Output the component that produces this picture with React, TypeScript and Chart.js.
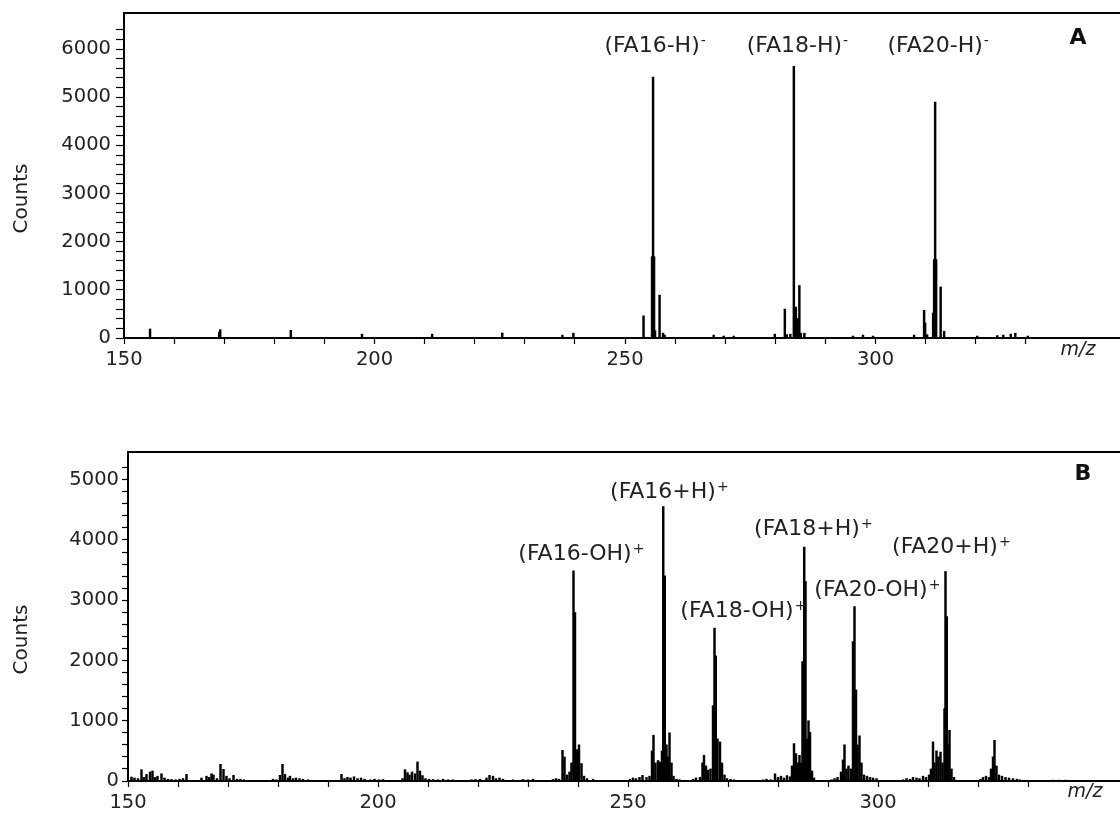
import React, { useEffect, useRef } from "react";
import { Chart, registerables } from "chart.js";

Chart.register(...registerables);

// ---------- Panel A (negative ions) ----------
const aMz = [155.2, 169.0, 169.2, 183.3, 197.5, 211.5, 225.5, 237.5, 239.7, 253.7, 255.4, 255.6, 255.8, 256.0, 256.9, 257.6, 257.9, 267.7, 269.7, 271.7, 279.9, 281.9, 282.3, 283.0, 283.7, 283.9, 284.1, 284.3, 284.5, 284.8, 285.1, 285.8, 295.5, 297.5, 299.5, 307.7, 309.7, 309.9, 310.3, 311.5, 311.7, 311.9, 312.1, 313.0, 313.7, 320.3, 324.3, 325.5, 327.0, 327.9, 330.4];
const aCounts = [187, 120, 173, 160, 80, 80, 104, 60, 100, 460, 1690, 5420, 1690, 150, 890, 100, 60, 60, 40, 40, 80, 600, 70, 80, 5640, 640, 640, 400, 400, 1090, 100, 100, 40, 60, 40, 60, 576, 312, 70, 520, 1630, 4900, 1630, 1060, 140, 40, 50, 60, 80, 100, 40];
const aLabelText = ["(FA16-H)", "(FA18-H)", "(FA20-H)"];
const aLabelSup = ["-", "-", "-"];
const aLabelMz = [255.4, 283.8, 311.9];
const aLabelY = [6060, 6060, 6060];

// ---------- Panel B (positive ions) ----------
const bMz = [
  150.7, 151.3, 152.0, 152.7, 153.2, 153.7, 154.4, 154.9, 155.4, 155.9, 156.7, 157.3, 158.0, 158.7, 159.5, 160.3, 161.0, 161.7,
  164.7, 165.7, 166.2, 166.7, 167.1, 167.8, 168.5, 169.1, 169.7, 170.3, 171.1, 171.8, 172.5, 173.2,
  179.0, 179.7, 180.4, 180.9, 181.4, 182.0, 182.4, 183.0, 183.6, 184.3, 185.0, 186.0,
  192.7, 193.3, 193.9, 194.5, 195.2, 195.9, 196.6, 197.3, 198.5, 199.3, 200.2, 201.0,
  204.9, 205.4, 205.9, 206.3, 206.8, 207.4, 207.9, 208.4, 208.9, 209.5, 210.2, 211.0, 212.0, 213.0, 214.0, 215.0,
  218.7, 219.5, 220.4, 221.7, 222.3, 223.0, 223.6, 224.3, 225.0, 227.0, 229.0, 230.0, 231.0,
  235.0, 235.6, 236.2, 236.9, 237.3, 237.8, 238.3, 238.7, 239.1, 239.4, 239.8, 240.2, 240.7, 241.2, 241.8, 243.0,
  250.4, 251.0, 251.6, 252.3, 252.9, 253.7, 254.3, 254.8, 255.1, 255.5, 256.0, 256.4, 256.8, 257.05, 257.35, 257.7, 258.0, 258.3, 258.7, 259.1, 259.7, 260.3,
  263.0, 263.6, 264.4, 264.9, 265.2, 265.6, 266.0, 266.5, 267.0, 267.3, 267.55, 267.9, 268.4, 268.8, 269.3, 269.8, 270.5, 271.2,
  277.0, 277.7, 278.5, 279.4, 280.0, 280.6, 281.2, 281.8, 282.4, 282.8, 283.2, 283.6, 284.0, 284.3, 284.6, 284.9, 285.25, 285.5, 285.8, 286.1, 286.4, 286.8, 287.2,
  290.7, 291.3, 291.9, 292.6, 293.0, 293.3, 293.7, 294.1, 294.6, 295.0, 295.3, 295.6, 295.9, 296.3, 296.7, 297.2, 297.8, 298.4, 299.0, 299.7,
  305.0, 305.7, 306.4, 307.0, 307.7, 308.3, 309.0, 309.6, 310.2, 310.6, 311.0, 311.3, 311.7, 312.1, 312.5, 312.9, 313.3, 313.5, 313.75, 314.0, 314.3, 314.7, 315.2,
  320.5, 321.0, 321.6, 322.2, 322.6, 323.0, 323.3, 323.7, 324.2, 324.8, 325.5, 326.2, 327.0, 327.8, 328.4,
  335.0, 336.2, 337.5, 339.0,
];
const bCounts = [
  66, 50, 40, 188, 60, 110, 150, 166, 60, 80, 120, 50, 30, 25, 20, 30, 40, 110,
  50, 80, 60, 120, 100, 40, 277, 194, 80, 40, 94, 30, 30, 20,
  30, 20, 94, 277, 110, 50, 80, 40, 50, 40, 30, 20,
  110, 40, 60, 50, 70, 40, 50, 30, 20, 30, 20, 25,
  40, 188, 140, 100, 150, 120, 316, 166, 90, 40, 30, 25, 20, 30, 20, 20,
  20, 25, 30, 50, 94, 80, 40, 50, 30, 20, 25, 20, 30,
  25, 40, 30, 510, 400, 100, 150, 300, 3488, 2796, 520, 600, 290, 80, 40, 30,
  30, 50, 40, 60, 94, 60, 80, 500, 760, 300, 340, 316, 500, 4556, 3405, 600, 400, 800, 300, 80, 30, 20,
  30, 50, 60, 300, 427, 250, 180, 200, 1250, 2537, 2076, 700, 648, 300, 100, 40, 30, 20,
  20, 30, 20, 120, 60, 80, 50, 90, 70, 250, 620, 454, 300, 427, 300, 1982, 3882, 3311, 700, 1000, 810, 166, 50,
  20, 40, 60, 150, 350, 600, 200, 250, 200, 2314, 2895, 1512, 600, 750, 300, 100, 80, 60, 50, 40,
  20, 40, 30, 60, 50, 40, 80, 60, 100, 200, 650, 300, 500, 400, 480, 300, 1200, 3477, 2729, 600, 842, 200, 60,
  30, 60, 80, 60, 200, 400, 676, 250, 100, 80, 60, 50, 40, 30, 20,
  15, 15, 15, 10,
];
const bLabelText = ["(FA16-OH)", "(FA16+H)", "(FA18-OH)", "(FA18+H)", "(FA20-OH)", "(FA20+H)"];
const bLabelSup = ["+", "+", "+", "+", "+", "+"];
const bLabelMz = [239.4, 257.0, 271.8, 285.8, 298.6, 313.4];
const bLabelY = [3767, 4796, 2821, 4182, 3170, 3883];

// ---------- Axes ----------
const xMin = 150;
const xMajorStep = 50;
const xMinorStep = 10;
const yMajorStep = 1000;
const yMinorStep = 200;
const yTitle = "Counts";
const xTitle = "m/z";

const FONT = '"DejaVu Sans", "Liberation Sans", sans-serif';

type PanelProps = {
  mz: number[];
  counts: number[];
  labelText: string[];
  labelSup: string[];
  labelMz: number[];
  labelY: number[];
  letter: string;
  xMax: number;
  yMax: number;
  top: number;
  height: number;
  padTop: number;
  xAxisHeight: number;
  yAxisWidth: number;
  yTickLen: number;
  yTickPad: number;
  letterDx: number;
  letterDy: number;
  mzDx: number;
  mzDy: number;
};

function onStep(v: number, step: number) {
  const r = v / step;
  return Math.abs(r - Math.round(r)) < 1e-6;
}

function Panel(p: PanelProps) {
  const ref = useRef<HTMLCanvasElement | null>(null);
  useEffect(() => {
    if (!ref.current) return;
    const overlay = {
      id: "overlay",
      afterDraw(chart: any) {
        const { ctx, chartArea: ca } = chart;
        const x = chart.scales.x;
        const y = chart.scales.y;
        ctx.save();
        // top frame line
        ctx.strokeStyle = "#000";
        ctx.lineWidth = 2;
        ctx.beginPath();
        ctx.moveTo(ca.left, ca.top);
        ctx.lineTo(ca.right, ca.top);
        ctx.stroke();
        // peak labels
        ctx.fillStyle = "#222";
        ctx.textBaseline = "middle";
        p.labelText.forEach((t, i) => {
          const px = x.getPixelForValue(p.labelMz[i]);
          const py = y.getPixelForValue(p.labelY[i]);
          ctx.font = `22px ${FONT}`;
          ctx.textAlign = "center";
          ctx.fillText(t, px, py);
          const w = ctx.measureText(t).width;
          ctx.font = `14px ${FONT}`;
          ctx.textAlign = "left";
          ctx.fillText(p.labelSup[i], px + w / 2 + 1, py - 5);
        });
        // panel letter
        ctx.fillStyle = "#111";
        ctx.font = `bold 22px ${FONT}`;
        ctx.textAlign = "center";
        ctx.fillText(p.letter, ca.right + p.letterDx, ca.top + p.letterDy);
        // m/z
        ctx.fillStyle = "#222";
        ctx.font = `italic 19px ${FONT}`;
        ctx.fillText(xTitle, ca.right + p.mzDx, ca.bottom + p.mzDy);
        // y title
        ctx.font = `20px ${FONT}`;
        ctx.translate(22, (ca.top + ca.bottom) / 2 + 23);
        ctx.rotate(-Math.PI / 2);
        ctx.fillText(yTitle, 0, 0);
        ctx.restore();
      },
    };
    const chart = new Chart(ref.current, {
      type: "bar",
      data: {
        datasets: [
          {
            data: p.mz.map((m, i) => ({ x: m, y: p.counts[i] })),
            backgroundColor: "#000",
            borderWidth: 0,
            barThickness: 1.8,
            grouped: false,
          } as any,
        ],
      },
      options: {
        animation: false,
        responsive: false,
        maintainAspectRatio: false,
        layout: { padding: { top: p.padTop, right: 0, bottom: 0, left: 0 } },
        plugins: { legend: { display: false }, tooltip: { enabled: false } },
        scales: {
          x: {
            type: "linear",
            min: xMin,
            max: p.xMax,
            offset: false,
            afterBuildTicks: (s: any) => {
              s.ticks = s.ticks.filter((t: any) => onStep(t.value, xMinorStep));
            },
            afterFit: (s: any) => {
              s.height = p.xAxisHeight;
              s.paddingLeft = 0;
              s.paddingRight = 0;
            },
            ticks: {
              stepSize: xMinorStep,
              autoSkip: false,
              maxRotation: 0,
              padding: 4,
              color: "#222",
              font: { family: FONT, size: 19.5 },
              callback: (v: any) => (onStep(Number(v), xMajorStep) ? String(v) : ""),
            },
            grid: {
              display: true,
              offset: false,
              drawOnChartArea: false,
              drawTicks: true,
              tickLength: 6,
              tickColor: "#000",
              tickWidth: 1.2,
            },
            border: { display: true, color: "#000", width: 2 },
          } as any,
          y: {
            type: "linear",
            min: 0,
            max: p.yMax,
            afterBuildTicks: (s: any) => {
              s.ticks = s.ticks.filter((t: any) => onStep(t.value, yMinorStep));
            },
            afterFit: (s: any) => {
              s.width = p.yAxisWidth;
              s.paddingTop = 0;
              s.paddingBottom = 0;
            },
            ticks: {
              stepSize: yMinorStep,
              autoSkip: false,
              padding: p.yTickPad,
              color: "#222",
              font: { family: FONT, size: 19.5 },
              callback: (v: any) => (onStep(Number(v), yMajorStep) ? String(v) : ""),
            },
            grid: {
              display: true,
              drawOnChartArea: false,
              drawTicks: true,
              tickLength: p.yTickLen,
              tickColor: "#000",
              tickWidth: 1.2,
            },
            border: { display: true, color: "#000", width: 2 },
          } as any,
        },
      },
      plugins: [overlay],
    });
    return () => chart.destroy();
  }, []);
  return (
    <canvas
      ref={ref}
      width={1120}
      height={p.height}
      style={{ position: "absolute", left: 0, top: p.top, width: 1120, height: p.height, display: "block" }}
    />
  );
}

export default function App() {
  return (
    <div style={{ position: "absolute", left: 0, top: 0, width: 1120, height: 818, background: "#fff", overflow: "hidden" }}>
      <Panel
        mz={aMz}
        counts={aCounts}
        labelText={aLabelText}
        labelSup={aLabelSup}
        labelMz={aLabelMz}
        labelY={aLabelY}
        letter="A"
        xMax={348.8}
        yMax={6750}
        top={0}
        height={380}
        padTop={13}
        xAxisHeight={42}
        yAxisWidth={124}
        yTickLen={8}
        yTickPad={5}
        letterDx={-42}
        letterDy={25}
        mzDx={-42}
        mzDy={12}
      />
      <Panel
        mz={bMz}
        counts={bCounts}
        labelText={bLabelText}
        labelSup={bLabelSup}
        labelMz={bLabelMz}
        labelY={bLabelY}
        letter="B"
        xMax={348.4}
        yMax={5460}
        top={380}
        height={438}
        padTop={72}
        xAxisHeight={37}
        yAxisWidth={128}
        yTickLen={6}
        yTickPad={3}
        letterDx={-37}
        letterDy={22}
        mzDx={-35}
        mzDy={11}
      />
    </div>
  );
}
